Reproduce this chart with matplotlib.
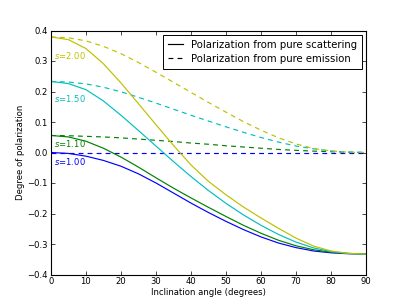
import matplotlib
matplotlib.use('Agg')
import matplotlib.pyplot as plt

# inclination angles (degrees)
angle = [0, 5, 10, 15, 20, 25, 30, 35, 40, 45, 50, 55, 60, 65, 70, 75, 80, 85, 90]

s_labels = ['1.00', '1.10', '1.50', '2.00']
colors = ['b', 'g', 'c', 'y']

# polarization from pure scattering
scat_100 = [0.0, -0.003, -0.012, -0.026, -0.045, -0.070, -0.100, -0.133, -0.166, -0.197,
            -0.226, -0.253, -0.277, -0.297, -0.312, -0.323, -0.329, -0.332, -0.333]
scat_110 = [0.056, 0.051, 0.037, 0.014, -0.015, -0.048, -0.083, -0.117, -0.149, -0.180,
            -0.210, -0.239, -0.265, -0.288, -0.306, -0.319, -0.327, -0.331, -0.333]
scat_150 = [0.233, 0.226, 0.206, 0.169, 0.122, 0.072, 0.021, -0.030, -0.079, -0.125,
            -0.167, -0.205, -0.239, -0.269, -0.294, -0.313, -0.325, -0.331, -0.333]
scat_200 = [0.379, 0.370, 0.341, 0.291, 0.228, 0.160, 0.091, 0.023, -0.041, -0.095,
            -0.139, -0.179, -0.215, -0.249, -0.281, -0.307, -0.323, -0.331, -0.333]

# polarization from pure emission
emis_100 = [0.0] * 19
emis_110 = [0.0557, 0.055, 0.053, 0.051, 0.048, 0.044, 0.040, 0.036, 0.031, 0.027,
            0.022, 0.018, 0.014, 0.010, 0.007, 0.0045, 0.0025, 0.001, 0.0]
emis_150 = [0.233, 0.231, 0.225, 0.214, 0.199, 0.181, 0.162, 0.142, 0.122, 0.103,
            0.084, 0.066, 0.049, 0.034, 0.021, 0.012, 0.005, 0.001, 0.0]
emis_200 = [0.379, 0.376, 0.366, 0.348, 0.324, 0.295, 0.263, 0.230, 0.197, 0.164,
            0.132, 0.101, 0.073, 0.048, 0.028, 0.013, 0.005, 0.001, 0.0]

label_y = [-0.031, 0.030, 0.178, 0.317]

scat = [scat_100, scat_110, scat_150, scat_200]
emis = [emis_100, emis_110, emis_150, emis_200]

plt.rcParams['font.size'] = 6.1
plt.rcParams['lines.scale_dashes'] = False
plt.rcParams['xtick.direction'] = 'in'
plt.rcParams['ytick.direction'] = 'in'

fig = plt.figure(figsize=(4.07, 3.05), dpi=100)
ax = fig.add_axes([0.125, 0.1, 0.775, 0.8])

for i in range(4):
    ax.plot(angle, scat[i], color=colors[i], lw=0.85)
    ax.plot(angle, emis[i], color=colors[i], lw=0.85, ls='--', dashes=(3.5, 3))
    ax.text(1.0, label_y[i], '$s$=' + s_labels[i], color=colors[i], va='center', fontsize=6.1)

# legend entries
h1, = ax.plot([], [], color='k', lw=0.85)
h2, = ax.plot([], [], color='k', lw=0.85, ls='--', dashes=(3.5, 3))
leg = ax.legend([h1, h2], ['Polarization from pure scattering', 'Polarization from pure emission'],
                loc='upper right', fontsize=7.3, fancybox=False, framealpha=1,
                edgecolor='k', handlelength=1.5, handletextpad=0.8, labelspacing=0.4,
                borderpad=0.5, borderaxespad=0.4)
leg.get_frame().set_linewidth(0.7)

ax.set_xlim(0, 90)
ax.set_ylim(-0.4, 0.4)
ax.set_xticks(range(0, 91, 10))
ax.set_yticks([-0.4, -0.3, -0.2, -0.1, 0.0, 0.1, 0.2, 0.3, 0.4])
ax.tick_params(top=True, right=True, length=2.8, width=0.5, pad=2)
for sp in ax.spines.values():
    sp.set_linewidth(0.8)
ax.set_xlabel('Inclination angle (degrees)', labelpad=1)
ax.set_ylabel('Degree of polarization', labelpad=2)

fig.savefig('out.png', dpi=100)
